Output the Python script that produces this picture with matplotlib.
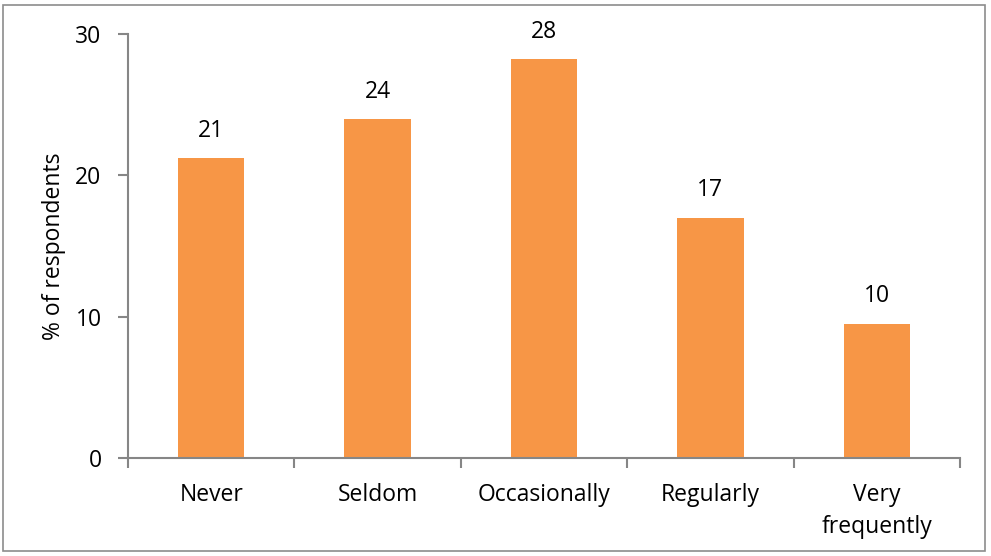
import matplotlib
matplotlib.use("Agg")
import matplotlib.pyplot as plt
from matplotlib.patches import Rectangle
from matplotlib.ticker import FixedLocator

categories = ["Never", "Seldom", "Occasionally", "Regularly", "Very\nfrequently"]
values = [21.2, 24.0, 28.2, 17.0, 9.5]
yticks = [0, 10, 20, 30]

plt.rcParams['font.family'] = ['Open Sans', 'DejaVu Sans']
FS = 16.5
AX = "#868686"

fig = plt.figure(figsize=(9.91, 5.56), dpi=100)
ax = fig.add_axes([128/991, 1-458/556, (960-128)/991, (458-34)/556])

x = list(range(len(categories)))
ax.bar(x, values, width=0.4, color="#F79646", zorder=2)
for xi, v in zip(x, values):
    ax.annotate(f"{round(v):d}", (xi, v), xytext=(0, 11), textcoords="offset points",
                ha="center", va="bottom", fontsize=FS, color="black")

ax.set_xlim(-0.5, len(categories) - 0.5)
ax.set_ylim(0, 30)
ax.set_yticks(yticks)
ax.set_yticklabels([str(t) for t in yticks], fontsize=FS)
ax.set_xticks(x)
ax.set_xticklabels(categories, fontsize=FS, linespacing=1.45)
ax.xaxis.set_minor_locator(FixedLocator([i - 0.5 for i in range(len(categories) + 1)]))
ax.tick_params(axis="x", which="major", length=0, pad=18)
ax.tick_params(axis="x", which="minor", length=7, color=AX, width=1.5, direction="out")
ax.tick_params(axis="y", length=7, color=AX, width=1.5, direction="out", pad=12)
for s in ["top", "right"]:
    ax.spines[s].set_visible(False)
for s in ["left", "bottom"]:
    ax.spines[s].set_color(AX)
    ax.spines[s].set_linewidth(1.5)
ax.set_ylabel("% of respondents", fontsize=FS, labelpad=7)

fig.patches.append(Rectangle((3/991, 5/556), 982/991, 546/556, transform=fig.transFigure,
                             fill=False, edgecolor="#8c8c8c", linewidth=1.2))

fig.savefig("out.png", dpi=100)
